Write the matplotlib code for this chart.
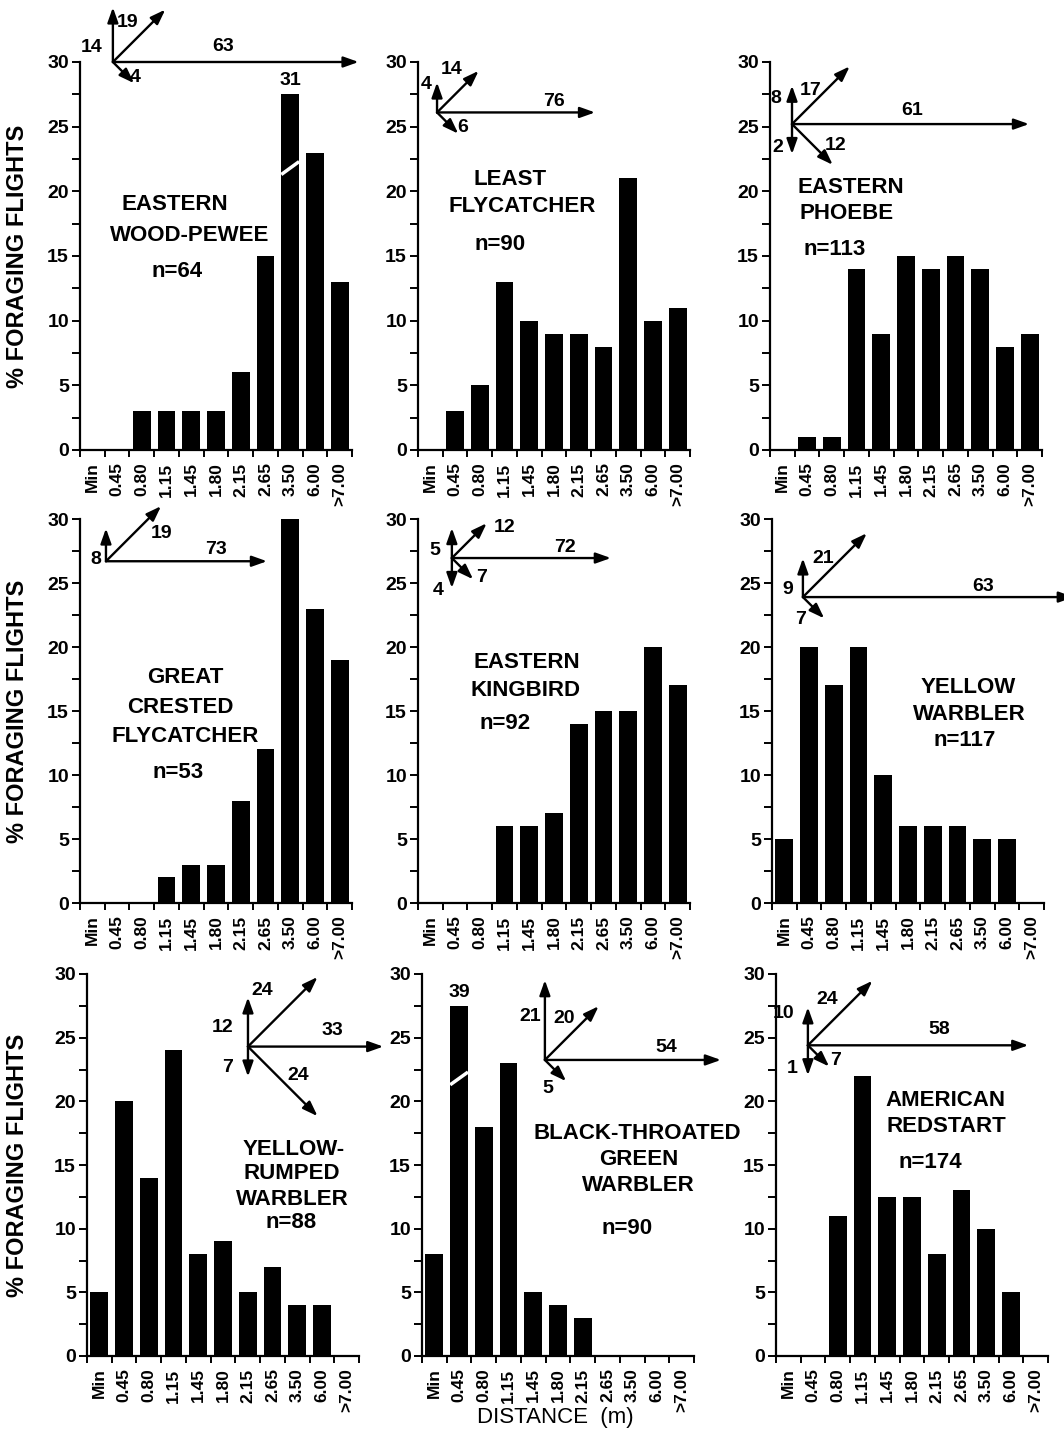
import numpy as np
import matplotlib.pyplot as plt
from matplotlib.ticker import MultipleLocator

plt.rcParams['font.family'] = ['Liberation Sans', 'DejaVu Sans']

W, H = 1064, 1437

categories = ['Min', '0.45', '0.80', '1.15', '1.45', '1.80', '2.15', '2.65', '3.50', '6.00', '>7.00']

# % of foraging flights per distance class
pewee = [0, 0, 3, 3, 3, 3, 6, 15, 31, 23, 13]
least = [0, 3, 5, 13, 10, 9, 9, 8, 21, 10, 11]
phoebe = [0, 1, 1, 14, 9, 15, 14, 15, 14, 8, 9]
crested = [0, 0, 0, 2, 3, 3, 8, 12, 30, 23, 19]
kingbird = [0, 0, 0, 6, 6, 7, 14, 15, 15, 20, 17]
yellow = [5, 20, 17, 20, 10, 6, 6, 6, 5, 5, 0]
rumped = [5, 20, 14, 24, 8, 9, 5, 7, 4, 4, 0]
btgreen = [8, 39, 18, 23, 5, 4, 3, 0, 0, 0, 0]
redstart = [0, 0, 11, 22, 12.5, 12.5, 8, 13, 10, 5, 0]

names = [['EASTERN', 'WOOD-PEWEE'], ['LEAST', 'FLYCATCHER'], ['EASTERN', 'PHOEBE'],
         ['GREAT', 'CRESTED', 'FLYCATCHER'], ['EASTERN', 'KINGBIRD'], ['YELLOW', 'WARBLER'],
         ['YELLOW-', 'RUMPED', 'WARBLER'], ['BLACK-THROATED', 'GREEN', 'WARBLER'],
         ['AMERICAN', 'REDSTART']]
n_flights = [64, 90, 113, 53, 92, 117, 88, 90, 174]

# flight directions (% of flights): up, up-right, horizontal, down-right, down
dir_pewee = {'up': 14, 'diag': 19, 'right': 63, 'dr': 4}
dir_least = {'up': 4, 'diag': 14, 'right': 76, 'dr': 6}
dir_phoebe = {'up': 8, 'diag': 17, 'right': 61, 'dr': 12, 'down': 2}
dir_crested = {'up': 8, 'diag': 19, 'right': 73}
dir_kingbird = {'up': 5, 'diag': 12, 'right': 72, 'dr': 7, 'down': 4}
dir_yellow = {'up': 9, 'diag': 21, 'right': 63, 'dr': 7}
dir_rumped = {'up': 12, 'diag': 24, 'right': 33, 'dr': 24, 'down': 7}
dir_btgreen = {'up': 21, 'diag': 20, 'right': 54, 'dr': 5}
dir_redstart = {'up': 10, 'diag': 24, 'right': 58, 'dr': 7, 'down': 1}

series = [pewee, least, phoebe, crested, kingbird, yellow, rumped, btgreen, redstart]
directions = [dir_pewee, dir_least, dir_phoebe, dir_crested, dir_kingbird,
              dir_yellow, dir_rumped, dir_btgreen, dir_redstart]

# ---- layout (pixels / data coords) ----
col_left = [[80, 418, 770], [80, 418, 772], [87, 422, 776]]
row_top = [62, 519, 974]
row_bot = [450, 903, 1356]
ax_w = 272
bar_cap = 27.5       # drawn height of broken bars

name_pos = [  # (x, y) data coords for each line, then n=
    [(3.34, 18.95), (3.95, 16.6), (3.42, 13.8)],
    [(3.22, 20.9), (3.71, 18.8), (2.82, 15.9)],
    [(2.78, 20.3), (2.61, 18.3), (2.13, 15.5)],
    [(3.75, 17.6), (3.54, 15.3), (3.75, 13.0), (3.46, 10.2)],
    [(3.9, 18.75), (3.83, 16.6), (3.02, 14.0)],
    [(7.43, 16.8), (7.5, 14.7), (7.3, 12.7)],
    [(7.87, 16.2), (7.79, 14.3), (7.79, 12.3), (7.75, 10.5)],
    [(8.19, 17.5), (8.27, 15.4), (8.27, 13.4), (7.79, 10.05)],
    [(6.37, 20.1), (6.37, 18.0), (5.73, 15.2)],
]
origins = [(0.83, 30.0), (0.27, 26.1), (0.39, 25.2), (0.55, 26.7), (0.87, 26.95),
           (0.75, 23.9), (6.01, 24.3), (4.47, 23.25), (0.79, 24.4)]
px_per_unit = [3.9, 4.2, 4.8, 4.1, 4.1, 4.3, 4.1, 3.8, 3.8]
right_cap = [None, 158, 237, 161, 159, None, None, 176, None]
label_off = [
    {'up': (-21, 14), 'diag': (15, 39), 'right': (110, 15), 'dr': (22, -16)},
    {'up': (-11, 28), 'diag': (15, 43), 'right': (117, 11), 'dr': (26, -15)},
    {'up': (-16, 26), 'diag': (19, 34), 'right': (120, 14), 'down': (-14, -23), 'dr': (44, -21)},
    {'up': (-10, 2), 'diag': (56, 28), 'right': (110, 12)},
    {'up': (-17, 8), 'diag': (53, 31), 'right': (113, 11), 'down': (-14, -32), 'dr': (30, -19)},
    {'up': (-15, 8), 'diag': (20, 39), 'right': (180, 11), 'dr': (-2, -22)},
    {'up': (-25, 19), 'diag': (14, 56), 'right': (84, 16), 'down': (-20, -21), 'dr': (50, -29)},
    {'up': (-15, 43), 'diag': (19, 41), 'right': (121, 12), 'dr': (3, -29)},
    {'up': (-24, 32), 'diag': (19, 46), 'right': (131, 16), 'down': (-16, -23), 'dr': (28, -15)},
]
unit = {'up': (0, 1), 'diag': (0.7071, 0.7071), 'right': (1, 0),
        'dr': (0.7071, -0.7071), 'down': (0, -1)}

PT = 0.72  # points per pixel at dpi 100

fig = plt.figure(figsize=(W / 100, H / 100), dpi=100)
x = np.arange(len(categories))

for i in range(9):
    r, c = divmod(i, 3)
    left = col_left[r][c]
    ax = fig.add_axes([left / W, 1 - row_bot[r] / H, ax_w / W, (row_bot[r] - row_top[r]) / H])
    vals = np.array(series[i], dtype=float)
    shown = np.where(vals > 30, bar_cap, vals)
    ax.bar(x, shown, width=0.72, color='black')
    for k in np.where(vals > 30)[0]:
        ax.plot([k - 0.36, k + 0.36], [21.3, 22.3], color='white', lw=2.5,
                solid_capstyle='butt', zorder=3)
        ax.text(k, bar_cap + 0.4, f'{vals[k]:.0f}', ha='center', va='bottom',
                fontsize=14, fontweight='bold')

    ax.set_xlim(-0.5, 10.5)
    ax.set_ylim(0, 30)
    for s in ['top', 'right']:
        ax.spines[s].set_visible(False)
    for s in ['left', 'bottom']:
        ax.spines[s].set_linewidth(1.6)
    ax.yaxis.set_major_locator(MultipleLocator(5))
    ax.yaxis.set_minor_locator(MultipleLocator(2.5))
    ax.set_xticks(x)
    ax.set_xticklabels(categories, rotation=90, fontsize=12.5, fontweight='bold')
    ax.set_xticks(np.arange(-0.5, 11, 1), minor=True)
    ax.tick_params(axis='x', which='major', length=0, pad=9)
    ax.tick_params(axis='x', which='minor', length=5, width=1.4)
    ax.tick_params(axis='y', which='both', length=6, width=1.4, pad=2)
    for lab in ax.get_yticklabels():
        lab.set_fontsize(14)
        lab.set_fontweight('bold')

    lines = names[i] + [f'n={n_flights[i]}']
    for txt, (tx, ty) in zip(lines, name_pos[i]):
        ax.text(tx, ty, txt, ha='center', va='center', fontsize=16, fontweight='bold')

    ox, oy = origins[i]
    for key, v in directions[i].items():
        L = max(px_per_unit[i] * v, 30)
        if key == 'right' and right_cap[i] is not None:
            L = min(L, right_cap[i])
        ux, uy = unit[key]
        ax.annotate('', xy=(ox, oy), xycoords='data',
                    xytext=(ux * L * PT, uy * L * PT), textcoords='offset points',
                    arrowprops=dict(arrowstyle='<|-,head_length=0.9,head_width=0.32',
                                    lw=1.7, color='black', shrinkA=0, shrinkB=0),
                    annotation_clip=False)
        ldx, ldy = label_off[i][key]
        ax.annotate(str(v), xy=(ox, oy), xycoords='data',
                    xytext=(ldx * PT, ldy * PT), textcoords='offset points',
                    ha='center', va='center', fontsize=14, fontweight='bold',
                    annotation_clip=False)

    if c == 0:
        yc = 1 - (row_top[r] + row_bot[r]) / 2 / H
        fig.text(18 / W, yc, '% FORAGING FLIGHTS', rotation=90, ha='center', va='center',
                 fontsize=17, fontweight='bold')

fig.text(555 / W, 1 - 1418 / H, 'DISTANCE  (m)', ha='center', va='center', fontsize=16)

fig.savefig('out.png', dpi=100)
